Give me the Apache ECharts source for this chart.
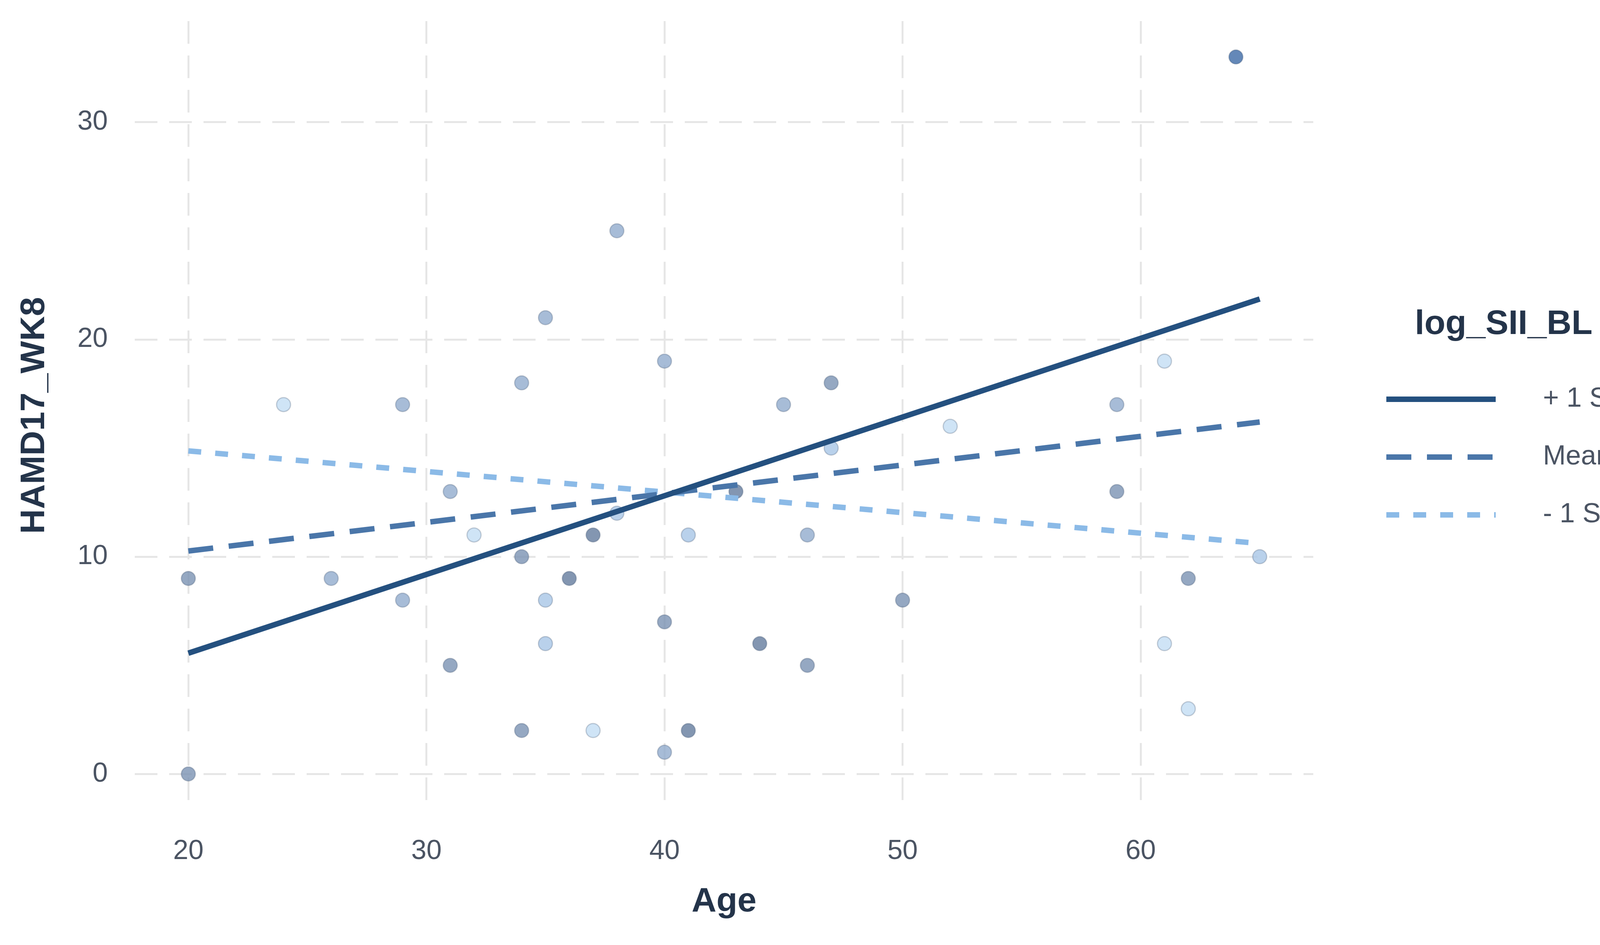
<!DOCTYPE html>
<html>
<head>
<meta charset="utf-8">
<script src="https://cdn.jsdelivr.net/npm/echarts@6/dist/echarts.min.js"></script>
<style>
html,body{margin:0;padding:0;background:#fff;overflow:hidden;}
#chart{width:4186px;height:2419px;}
</style>
</head>
<body>
<div id="chart"></div>
<script>
// ---- data ----
const ages  = [20,20,24,26,29,29,31,31,32,34,34,34,35,35,35,36,37,37,38,38,40,40,40,41,41,43,44,45,46,46,47,47,50,52,59,59,61,61,62,62,64,65];
const hamd  = [0, 9,17, 9,17, 8, 5,13,11,18,10, 2,21, 8, 6, 9, 2,11,25,12,19, 7, 1,11, 2,13, 6,17,11, 5,18,15, 8,16,13,17,19, 6, 9, 3,33,10];
// approximate moderator shade level (1 = low log_SII_BL / light, 6 = high / dark)
const shade = [4, 4, 1, 3, 3, 3, 4, 3, 1, 3, 4, 4, 3, 2, 2, 5, 1, 5, 3, 2, 3, 4, 3, 2, 5, 5, 5, 3, 3, 4, 4, 2, 4, 1, 4, 3, 1, 1, 4, 1, 6, 2];

const lineAges   = [20, 65];
const plusSD     = [5.56, 21.86];
const meanLine   = [10.26, 16.2];
const minusSD    = [14.87, 10.61];
const seriesNames = ['+ 1 SD', 'Mean', '- 1 SD'];

const xTitle = 'Age';
const yTitle = 'HAMD17_WK8';
const legendTitle = 'log_SII_BL';

// ---- styling ----
const palette = {1:'#c3ddf4',2:'#a8c5e6',3:'#91abcd',4:'#7a92b3',5:'#647c9d',6:'#3d6aa6'};
const lineColors = ['#24507f', '#4a76a9', '#8bbae7'];
const FONT = '"Liberation Sans", Arial, Helvetica, sans-serif';
const tickColor = '#4b5463';
const titleColor = '#24344a';
const gridColor = '#e6e6e6';

const pts = ages.map((a, i) => [a, hamd[i], shade[i]]);
const mk = (ys) => lineAges.map((a, i) => [a, ys[i]]);

const chart = echarts.init(document.getElementById('chart'), null, {renderer: 'canvas'});
const option = {
  backgroundColor: '#ffffff',
  animation: false,
  title: {
    text: legendTitle,
    left: 3622, top: 781, padding: 0,
    textStyle: {fontFamily: FONT, fontSize: 88, fontWeight: 'bold', color: titleColor, lineHeight: 100}
  },
  legend: {
    orient: 'vertical',
    left: 3537, top: 977,
    itemWidth: 280, itemHeight: 20, itemGap: 68,
    data: seriesNames,
    itemStyle: {opacity: 0},
    lineStyle: {width: 14, cap: 'butt'},
    textStyle: {fontFamily: FONT, fontSize: 70, color: tickColor, lineHeight: 80, padding: [0, 0, 0, 116]}
  },
  grid: {left: 345, right: 824, top: 54, bottom: 346, containLabel: false},
  xAxis: {
    type: 'value', min: 17.75, max: 67.25, minInterval: 10, maxInterval: 10,
    name: xTitle, nameLocation: 'middle', nameGap: 192,
    nameTextStyle: {fontFamily: FONT, fontSize: 88, fontWeight: 'bold', color: titleColor},
    axisLine: {show: false}, axisTick: {show: false},
    axisLabel: {fontFamily: FONT, fontSize: 70, color: tickColor, margin: 72, showMinLabel: false, showMaxLabel: false},
    splitLine: {show: true, showMinLine: false, showMaxLine: false, lineStyle: {color: gridColor, width: 5, type: [58, 30]}}
  },
  yAxis: {
    type: 'value', min: -1.65, max: 34.65, minInterval: 10, maxInterval: 10,
    name: yTitle, nameLocation: 'middle', nameGap: 212,
    nameTextStyle: {fontFamily: FONT, fontSize: 88, fontWeight: 'bold', color: titleColor},
    axisLine: {show: false}, axisTick: {show: false},
    axisLabel: {fontFamily: FONT, fontSize: 70, color: tickColor, margin: 69, showMinLabel: false, showMaxLabel: false},
    splitLine: {show: true, showMinLine: false, showMaxLine: false, lineStyle: {color: gridColor, width: 5, type: [58, 30]}}
  },
  series: [
    {
      type: 'scatter', name: 'points', data: pts, symbolSize: 36, z: 2,
      itemStyle: {
        color: (p) => palette[p.value[2]],
        borderColor: 'rgba(45,65,95,0.3)', borderWidth: 3
      }
    },
    {
      type: 'line', name: seriesNames[0], data: mk(plusSD), showSymbol: false, symbol: 'none', z: 5,
      lineStyle: {color: lineColors[0], width: 14, type: 'solid', cap: 'butt'},
      itemStyle: {color: lineColors[0]}
    },
    {
      type: 'line', name: seriesNames[1], data: mk(meanLine), showSymbol: false, symbol: 'none', z: 4,
      lineStyle: {color: lineColors[1], width: 14, type: [64, 40], cap: 'butt'},
      itemStyle: {color: lineColors[1]}
    },
    {
      type: 'line', name: seriesNames[2], data: mk(minusSD), showSymbol: false, symbol: 'none', z: 3,
      lineStyle: {color: lineColors[2], width: 14, type: [33, 36], cap: 'butt'},
      itemStyle: {color: lineColors[2]}
    }
  ]
};
chart.setOption(option);
</script>
</body>
</html>
